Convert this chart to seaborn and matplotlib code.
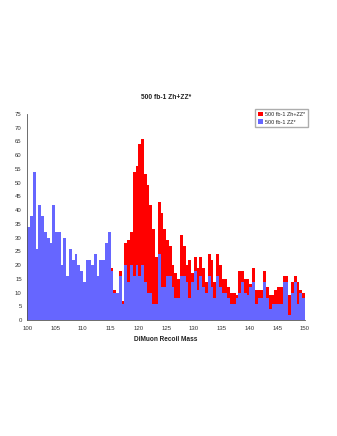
import numpy as np
import pandas as pd
import matplotlib
matplotlib.use("Agg")
import matplotlib.pyplot as plt
import seaborn as sns

# bins: 100 .. 150 in steps of 0.5 GeV
bin_lo = 100.0
bin_hi = 150.0
n_bins = 100

# ZZ* only (blue)
zz = [34, 38, 54, 26, 42, 38, 32, 30, 28, 42,
      32, 32, 20, 30, 16, 26, 22, 24, 20, 18,
      14, 22, 22, 20, 24, 16, 22, 22, 28, 32,
      18, 10, 10, 16, 6, 20, 14, 20, 16, 20,
      16, 20, 14, 10, 10, 6, 6, 24, 12, 12,
      16, 16, 12, 8, 8, 16, 16, 14, 8, 14,
      18, 11, 16, 12, 10, 16, 12, 8, 16, 12,
      10, 10, 8, 6, 6, 8, 10, 14, 10, 9,
      12, 14, 6, 8, 8, 14, 8, 4, 6, 6,
      6, 6, 14, 14, 2, 10, 14, 6, 10, 8]

# Zh + ZZ* total (red)
zh_zz = [34, 38, 54, 26, 42, 38, 32, 30, 28, 42,
         32, 32, 20, 30, 16, 26, 22, 24, 20, 18,
         14, 22, 22, 20, 24, 16, 22, 22, 28, 32,
         19, 11, 10, 18, 7, 28, 29, 32, 54, 56,
         64, 66, 53, 49, 42, 33, 23, 43, 39, 33,
         29, 27, 20, 17, 15, 31, 27, 20, 22, 17,
         23, 19, 23, 19, 14, 24, 22, 14, 24, 20,
         15, 15, 12, 10, 10, 9, 18, 18, 15, 15,
         13, 19, 11, 11, 11, 18, 12, 9, 9, 11,
         12, 12, 16, 16, 9, 14, 16, 14, 11, 10]

step = (bin_hi - bin_lo) / n_bins
centers = bin_lo + step * (np.arange(n_bins) + 0.5)
df = pd.DataFrame({"mass": centers, "total": zh_zz, "zz": zz})

sns.set_style("white")
plt.rcParams["font.family"] = ["Liberation Sans", "DejaVu Sans"]

fig = plt.figure(figsize=(3.37, 4.36), dpi=100)
ax = fig.add_axes([0.081, 0.266, 0.824, 0.473])

red = "#ff0000"
blue = "#6666ff"

sns.histplot(data=df, x="mass", weights="total", bins=n_bins,
             binrange=(bin_lo, bin_hi), element="step",
             fill=True, color=red, alpha=1, linewidth=0, ax=ax,
             label="500 fb-1 Zh+ZZ*")
sns.histplot(data=df, x="mass", weights="zz", bins=n_bins,
             binrange=(bin_lo, bin_hi), element="step",
             fill=True, color=blue, alpha=1, linewidth=0, ax=ax,
             label="500 fb-1 ZZ*")

ax.set_xlim(100, 150)
ax.set_ylim(0, 75)
ax.set_xticks(np.arange(100, 151, 5))
ax.set_yticks(np.arange(0, 76, 5))
ax.tick_params(axis="both", labelsize=4.3, length=2.5, width=0.6,
               color="#555555", labelcolor="#333333", pad=1.5, direction="out")
for s in ["top", "right"]:
    ax.spines[s].set_visible(False)
for s in ["left", "bottom"]:
    ax.spines[s].set_color("#555555")
    ax.spines[s].set_linewidth(0.6)

ax.set_ylabel("")
ax.set_xlabel("DiMuon Recoil Mass", fontsize=4.7, fontweight="bold",
              color="#222222", labelpad=4)
ax.set_title("500 fb-1 Zh+ZZ*", fontsize=4.8, fontweight="bold",
             color="#222222", pad=11)

leg = ax.legend(loc="upper right", bbox_to_anchor=(0.923, 0.757),
                bbox_transform=fig.transFigure, fontsize=4, frameon=True,
                fancybox=False, handlelength=1.0, handleheight=1.0,
                handletextpad=0.4, borderpad=0.5, labelspacing=0.4)
leg.get_frame().set_edgecolor("#999999")
leg.get_frame().set_linewidth(1.0)

fig.savefig("out.png", dpi=100, facecolor="white")
